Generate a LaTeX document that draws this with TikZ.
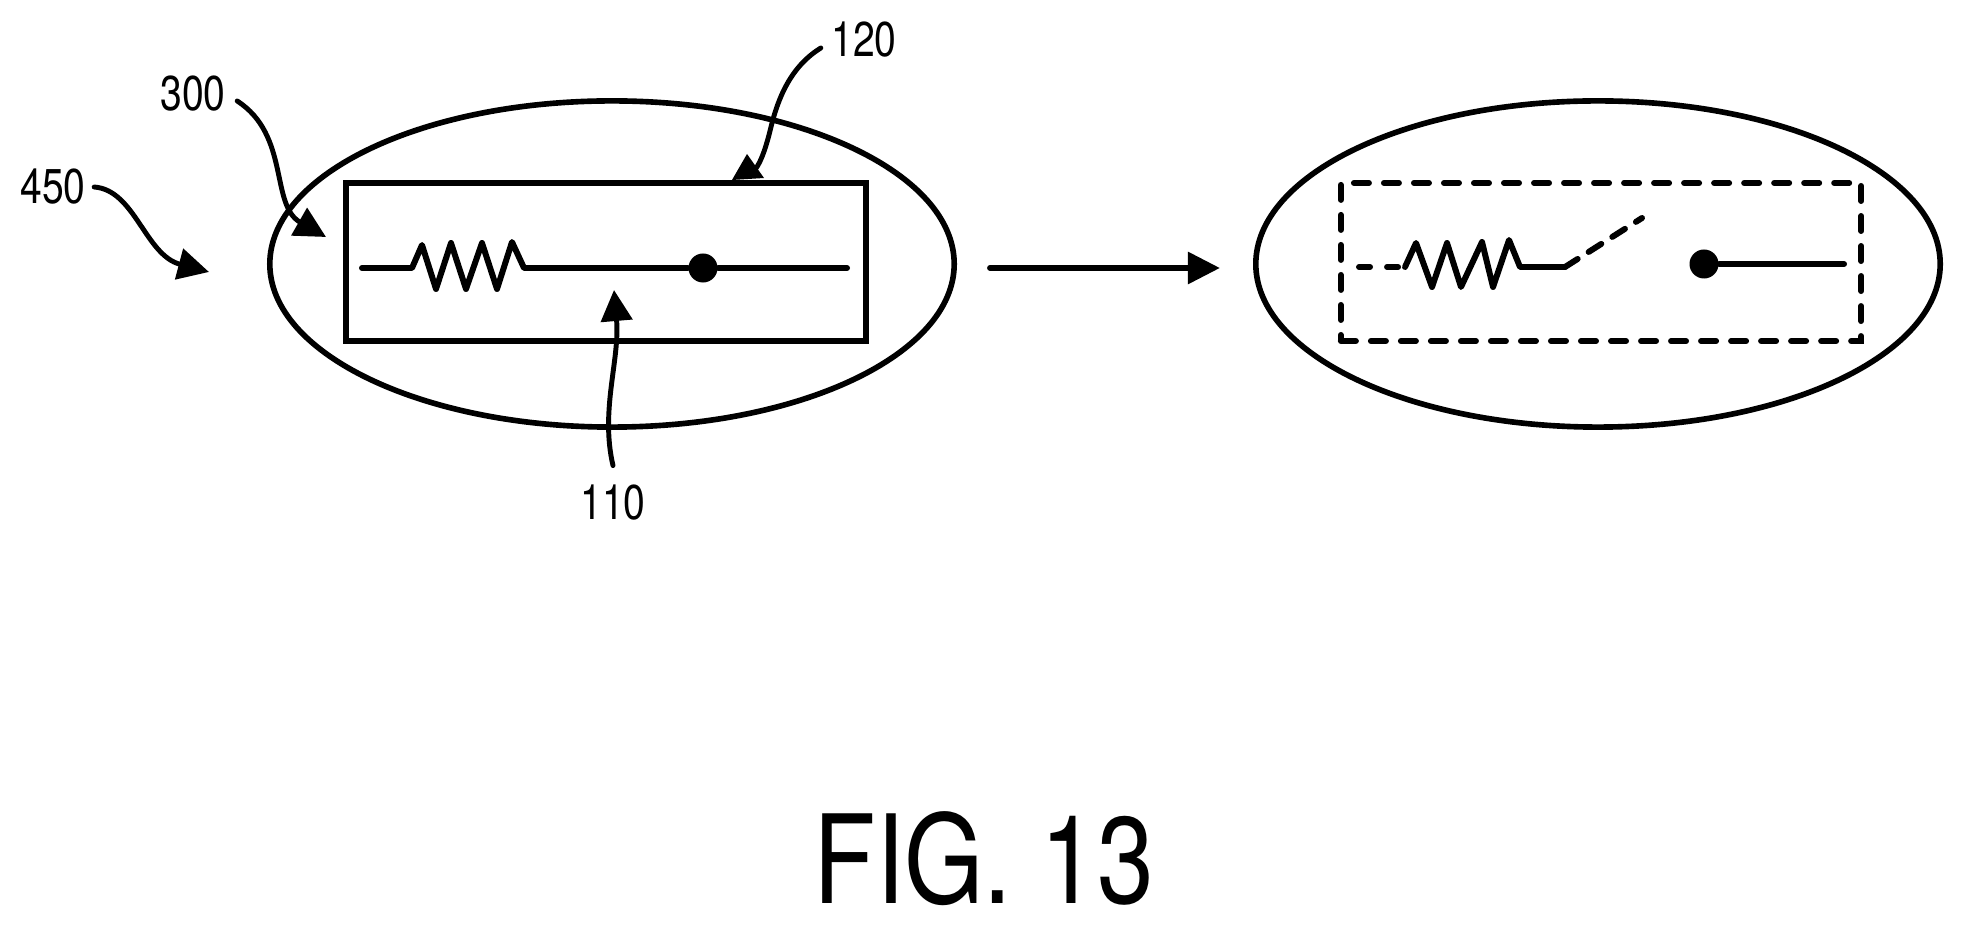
\documentclass[tikz,border=0pt]{standalone}
\usepackage{fontspec}
\setmainfont{TeX Gyre Heros}
\usetikzlibrary{arrows.meta,shapes.geometric}
\begin{document}
\begin{tikzpicture}[x=0.01cm,y=0.01cm]
    \tikzstyle{every node}+=[inner sep=0pt]
    \tikzstyle{oval}=[draw,ellipse,line width=1.6pt,minimum width=6.84cm,minimum height=3.26cm]
    \tikzstyle{board}=[draw,rectangle,line width=1.7pt,minimum width=5.2cm,minimum height=1.58cm]
    \tikzstyle{boardgone}=[board,line cap=round,dash pattern=on .15cm off .15cm]
    \tikzstyle{wire}=[line width=1.7pt,line join=round,line cap=round]
    \tikzstyle{wiregone}=[wire,dash pattern=on .11cm off .17cm]
    \tikzstyle{contact}=[fill=black,circle,minimum size=.29cm]
    \tikzstyle{refnum}=[font=\fontsize{13.9pt}{14pt}\selectfont,xscale=.8]
    \tikzstyle{leader}=[line width=1.4pt,line cap=round]
    \tikzstyle{pointer}=[leader,-{Triangle[length=.31cm,width=.31cm]}]
    \useasboundingbox (0,0) rectangle (1964,-925);
    \node [oval] (ovalA) at (612,-264) {};
    \node [board] (boardA) at (606,-262) {};
    \node [oval] (ovalB) at (1598,-264) {};
    \node [boardgone] (boardB) at (1601,-262) {};
    \coordinate (wireAin) at (362,-268);
    \coordinate (wireAout) at (847,-268);
    \node [contact] (contactA) at (703,-268) {};
    \draw [wire] (wireAin) -- (412,-268) -- (422,-245) -- (436,-289) -- (451,-243) -- (466,-289) -- (482,-243) -- (497,-289) -- (512,-242) -- (524,-268) -- (contactA) -- (wireAout);
    \coordinate (wireBin) at (1359,-267);
    \coordinate (wireBr) at (1405,-267);
    \coordinate (wireBs) at (1565,-267);
    \coordinate (wireBt) at (1642,-218);
    \coordinate (wireBout) at (1844,-264);
    \node [contact] (contactB) at (1704,-264) {};
    \draw [wiregone] (wireBin) -- (wireBr);
    \draw [wire] (wireBr) -- (1416,-243) -- (1432,-287) -- (1447,-243) -- (1461,-287) -- (1482,-242) -- (1493,-287) -- (1509,-240) -- (1520,-267) -- (wireBs);
    \draw [wire,dash pattern=on .15cm off .13cm] (wireBs) -- (wireBt);
    \draw [wire] (contactB) -- (wireBout);
    \draw [wire,-{Triangle[length=.32cm,width=.31cm]},shorten >=.33cm,shorten <=.33cm] ([yshift=-.04cm]ovalA.east) -- ([yshift=-.04cm]ovalB.west);
    \node [refnum] (num450) at (53,-187) {450};
    \node [refnum] (num300) at (193,-94) {300};
    \node [refnum] (num120) at (864,-40) {120};
    \node [refnum] (num110) at (613,-503) {110};
    \coordinate (tip450) at (209,-272);
    \coordinate (tip300) at (326,-237);
    \coordinate (tip110) at (614,-290);
    \coordinate (tip120) at (747,-154);
    \draw [pointer] ([xshift=.08cm]num450.east) .. controls (135,-190) and (145,-255) .. (tip450);
    \draw [pointer] ([xshift=.11cm,yshift=-.07cm]num300.east) .. controls (290,-135) and (270,-205) .. (tip300);
    \draw [pointer] ([yshift=.19cm]num110.north) .. controls (600,-410) and (620,-360) .. (tip110);
    \draw [leader] ([xshift=-.1cm,yshift=-.08cm]num120.west) .. controls (785,-70) and (775,-110) .. (769,-135) .. controls (765,-150) and (760,-165) .. (753,-172);
    \fill [black] (tip120) -- (732,-180) -- (764,-178) -- cycle;
    \node [font=\fontsize{35pt}{36pt}\selectfont,xscale=.83] (figlabel) at (984,-859) {FIG. 13};
\end{tikzpicture}
\end{document}
